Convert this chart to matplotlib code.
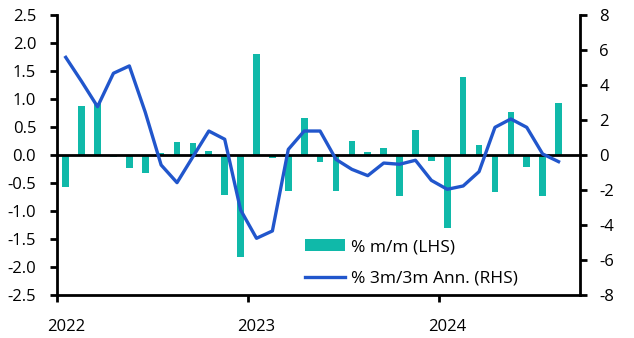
import matplotlib
matplotlib.use("Agg")
import matplotlib.pyplot as plt
from matplotlib.patches import Patch
from matplotlib.lines import Line2D

plt.rcParams['font.family'] = ['Open Sans', 'DejaVu Sans']
plt.rcParams['axes.unicode_minus'] = False

months = ["Jan22","Feb22","Mar22","Apr22","May22","Jun22","Jul22","Aug22","Sep22","Oct22","Nov22","Dec22",
          "Jan23","Feb23","Mar23","Apr23","May23","Jun23","Jul23","Aug23","Sep23","Oct23","Nov23","Dec23",
          "Jan24","Feb24","Mar24","Apr24","May24","Jun24","Jul24","Aug24"]
mm = [-0.58, 0.88, 0.92, -0.04, -0.23, -0.33, 0.03, 0.23, 0.21, 0.07, -0.71, -1.83,
      1.80, -0.05, -0.64, 0.66, -0.12, -0.64, 0.25, 0.05, 0.13, -0.74, 0.45, -0.10,
      -1.30, 1.39, 0.18, -0.66, 0.77, -0.21, -0.73, 0.93]
ann3m = [5.58, 4.2, 2.76, 4.67, 5.09, 2.45, -0.57, -1.58, -0.1, 1.37, 0.9, -3.14,
         -4.76, -4.34, 0.32, 1.37, 1.37, -0.25, -0.82, -1.18, -0.46, -0.53, -0.30, -1.45,
         -1.96, -1.77, -0.95, 1.58, 2.06, 1.58, 0.06, -0.38]
year_labels = ["2022", "2023", "2024"]

bar_color = "#10b9a9"
line_color = "#2156cc"

fig = plt.figure(figsize=(6.34, 3.38), dpi=100)
ax = fig.add_axes([57/634, 1-295/338, (580-57)/634, (295-15)/338])
ax2 = ax.twinx()

x = [i + 0.55 for i in range(len(months))]
ax.bar(x, mm, width=0.42, color=bar_color, zorder=2)
ax.axhline(0, color="black", lw=2, zorder=3)
ax2.plot(x, ann3m, color=line_color, lw=2.4, zorder=4, solid_joinstyle='round')

ax.set_xlim(0, 32.9)
ax.set_ylim(-2.5, 2.5)
ax2.set_ylim(-8, 8)
ax.set_yticks([-2.5 + 0.5*i for i in range(11)])
ax.set_yticklabels([f"{-2.5 + 0.5*i:.1f}" for i in range(11)])
ax2.set_yticks(range(-8, 9, 2))

ax.set_xticks([0, 12, 24])
ax.set_xticklabels([])
ax.set_xticks([0.55, 12.55, 24.55], minor=True)
ax.set_xticklabels(year_labels, minor=True)

for a in (ax, ax2):
    for s in a.spines.values():
        s.set_linewidth(2)
    a.spines['top'].set_visible(False)
ax.spines['right'].set_visible(False)
ax2.spines['left'].set_visible(False)
ax2.spines['bottom'].set_visible(False)

ax.tick_params(axis='y', direction='out', length=5, width=2, labelsize=12, pad=10)
ax2.tick_params(axis='y', direction='out', length=5, width=2, labelsize=12, pad=9)
ax.tick_params(axis='x', which='major', direction='out', length=5, width=2)
ax.tick_params(axis='x', which='minor', length=0, labelsize=12, pad=17)

handles = [Patch(facecolor=bar_color, edgecolor='none'),
           Line2D([0], [0], color=line_color, lw=2.4)]
fig.legend(handles, ["% m/m (LHS)", "% 3m/3m Ann. (RHS)"],
           loc='upper left', bbox_to_anchor=(305/634, 1-239/338),
           frameon=False, fontsize=12.5, borderpad=0, borderaxespad=0,
           handlelength=2.3, handleheight=0.63, handletextpad=0.33, labelspacing=0.9)

fig.savefig("out.png", dpi=100)
